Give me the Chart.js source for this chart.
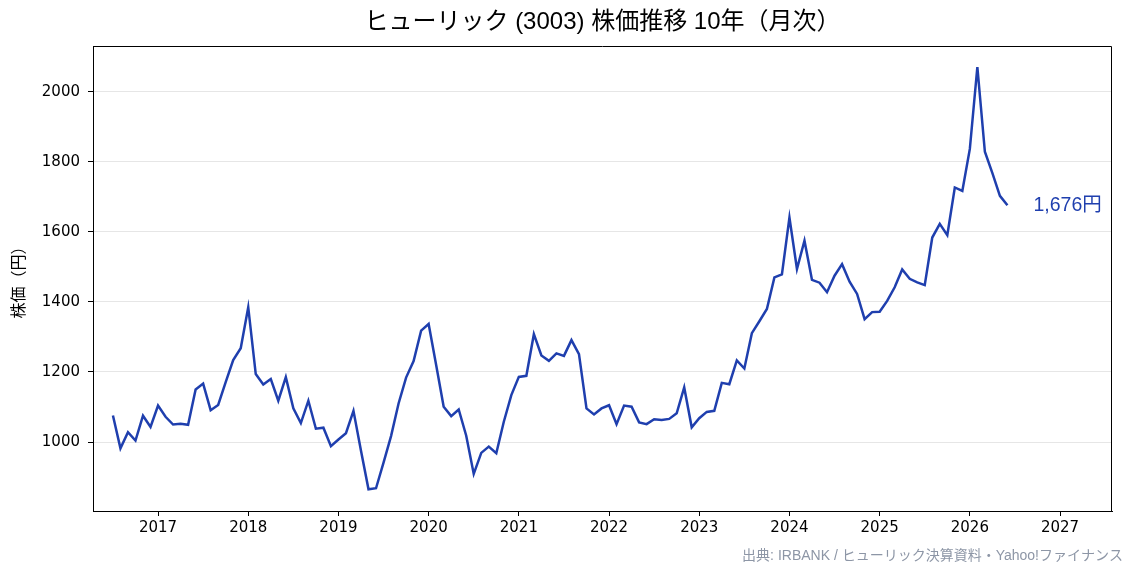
<!DOCTYPE html>
<html lang="ja">
<head>
  <meta charset="UTF-8">
  <title>ヒューリック (3003) 株価推移 10年（月次）</title>
  <script src="https://cdn.jsdelivr.net/npm/chart.js"></script>
  <style>
    body { margin: 0; background: #fff; }
    #wrap { width: 1135px; height: 575px; }
  </style>
</head>
<body>
  <div id="wrap"><canvas id="chart"></canvas></div>
  <script>
    // 月次の終値（円）
    const months = [
      '2016-07','2016-08','2016-09','2016-10','2016-11','2016-12',
      '2017-01','2017-02','2017-03','2017-04','2017-05','2017-06','2017-07','2017-08','2017-09','2017-10','2017-11','2017-12',
      '2018-01','2018-02','2018-03','2018-04','2018-05','2018-06','2018-07','2018-08','2018-09','2018-10','2018-11','2018-12',
      '2019-01','2019-02','2019-03','2019-04','2019-05','2019-06','2019-07','2019-08','2019-09','2019-10','2019-11','2019-12',
      '2020-01','2020-02','2020-03','2020-04','2020-05','2020-06','2020-07','2020-08','2020-09','2020-10','2020-11','2020-12',
      '2021-01','2021-02','2021-03','2021-04','2021-05','2021-06','2021-07','2021-08','2021-09','2021-10','2021-11','2021-12',
      '2022-01','2022-02','2022-03','2022-04','2022-05','2022-06','2022-07','2022-08','2022-09','2022-10','2022-11','2022-12',
      '2023-01','2023-02','2023-03','2023-04','2023-05','2023-06','2023-07','2023-08','2023-09','2023-10','2023-11','2023-12',
      '2024-01','2024-02','2024-03','2024-04','2024-05','2024-06','2024-07','2024-08','2024-09','2024-10','2024-11','2024-12',
      '2025-01','2025-02','2025-03','2025-04','2025-05','2025-06','2025-07','2025-08','2025-09','2025-10','2025-11','2025-12',
      '2026-01','2026-02','2026-03','2026-04','2026-05','2026-06'
    ];
    const prices = [
      1076, 982, 1028, 1004, 1075, 1043,
      1104, 1072, 1050, 1052, 1049, 1150, 1167, 1091, 1106, 1171, 1234, 1268,
      1385, 1194, 1164, 1180, 1118, 1185, 1096, 1054, 1118, 1038, 1041, 988,
      1007, 1025, 1089, 975, 865, 868, 941, 1017, 1110, 1184, 1231, 1318,
      1337, 1220, 1101, 1074, 1093, 1018, 909, 969, 987, 968, 1058, 1134,
      1186, 1189, 1308, 1247, 1232, 1253, 1246, 1291, 1251, 1096, 1079, 1096,
      1105, 1051, 1104, 1101, 1056, 1051, 1065, 1063, 1066, 1082, 1156, 1042,
      1068, 1086, 1089, 1169, 1165, 1233, 1210, 1311, 1345, 1380, 1470, 1479,
      1641, 1494, 1575, 1463, 1455, 1428, 1475, 1508, 1458, 1423, 1351, 1371,
      1372, 1403, 1442, 1493, 1466, 1456, 1448, 1584, 1623, 1591, 1727, 1717,
      1837, 2071, 1829, 1768, 1703, 1676
    ];
    const yearTicks = [2017, 2018, 2019, 2020, 2021, 2022, 2023, 2024, 2025, 2026, 2027];
    const priceTicks = [1000, 1200, 1400, 1600, 1800, 2000];
    const lastLabel = '1,676円';
    const sourceText = '出典: IRBANK / ヒューリック決算資料・Yahoo!ファイナンス';

    const lineColor = '#1f3fae';
    const jpFont = "'Liberation Sans', 'Noto Sans CJK JP', sans-serif";
    const tickFont = "'DejaVu Sans', sans-serif";

    function toYear(m) {
      const [y, mo] = m.split('-').map(Number);
      return y + (mo - 1) / 12;
    }

    const points = months.map((m, i) => ({ x: toYear(m), y: prices[i] }));

    const extras = {
      id: 'extras',
      afterDraw(chart) {
        const { ctx, chartArea: a } = chart;
        ctx.save();
        // 枠線（上・右）
        ctx.strokeStyle = '#000';
        ctx.lineWidth = 1;
        ctx.beginPath();
        ctx.moveTo(Math.round(a.left) + 0.5, Math.round(a.top) + 0.5);
        ctx.lineTo(Math.round(a.right) - 0.5, Math.round(a.top) + 0.5);
        ctx.lineTo(Math.round(a.right) - 0.5, Math.round(a.bottom) + 0.5);
        ctx.stroke();

        // 最新値ラベル
        const last = points[points.length - 1];
        const px = chart.scales.x.getPixelForValue(last.x);
        const py = chart.scales.y.getPixelForValue(last.y);
        ctx.fillStyle = lineColor;
        ctx.font = '19.5px ' + jpFont;
        ctx.textAlign = 'left';
        ctx.textBaseline = 'middle';
        ctx.fillText(lastLabel, px + 26, py);

        // 出典
        ctx.fillStyle = '#8d96a6';
        ctx.font = '14px ' + jpFont;
        ctx.textAlign = 'right';
        ctx.textBaseline = 'middle';
        ctx.fillText(sourceText, chart.width - 12, 556);
        ctx.restore();
      }
    };

    new Chart(document.getElementById('chart'), {
      type: 'line',
      data: {
        datasets: [{
          data: points,
          borderColor: lineColor,
          borderWidth: 2.5,
          pointRadius: 0,
          tension: 0,
          fill: false
        }]
      },
      options: {
        responsive: true,
        maintainAspectRatio: false,
        animation: false,
        layout: { padding: { top: 0, left: 0, right: 23, bottom: 0 } },
        plugins: {
          legend: { display: false },
          tooltip: { enabled: false },
          title: {
            display: true,
            fullSize: false,
            text: 'ヒューリック (3003) 株価推移 10年（月次）',
            color: '#000',
            font: { family: jpFont, size: 24, weight: 'normal' },
            padding: { top: 8, bottom: 9.2 }
          }
        },
        scales: {
          x: {
            type: 'linear',
            min: 2016.279,
            max: 2027.576,
            afterBuildTicks: s => { s.ticks = yearTicks.map(v => ({ value: v })); },
            afterFit: s => { s.height = 64; },
            ticks: {
              color: '#000',
              font: { family: tickFont, size: 15 },
              padding: 3,
              maxRotation: 0,
              callback: v => String(v)
            },
            grid: { drawOnChartArea: false, drawTicks: true, tickLength: 5, tickColor: '#000' },
            border: { display: true, color: '#000', width: 1 }
          },
          y: {
            min: 803,
            max: 2131,
            afterBuildTicks: s => { s.ticks = priceTicks.map(v => ({ value: v })); },
            afterFit: s => { s.width = 93; },
            ticks: {
              color: '#000',
              font: { family: tickFont, size: 15 },
              padding: 8,
              callback: v => String(v)
            },
            grid: { color: '#e6e6e6', tickLength: 5, tickColor: '#000' },
            border: { display: true, color: '#000', width: 1 },
            title: {
              display: true,
              text: '株価（円）',
              color: '#000',
              font: { family: jpFont, size: 16 },
              padding: { top: 10, bottom: 0 }
            }
          }
        }
      },
      plugins: [extras]
    });
  </script>
</body>
</html>
